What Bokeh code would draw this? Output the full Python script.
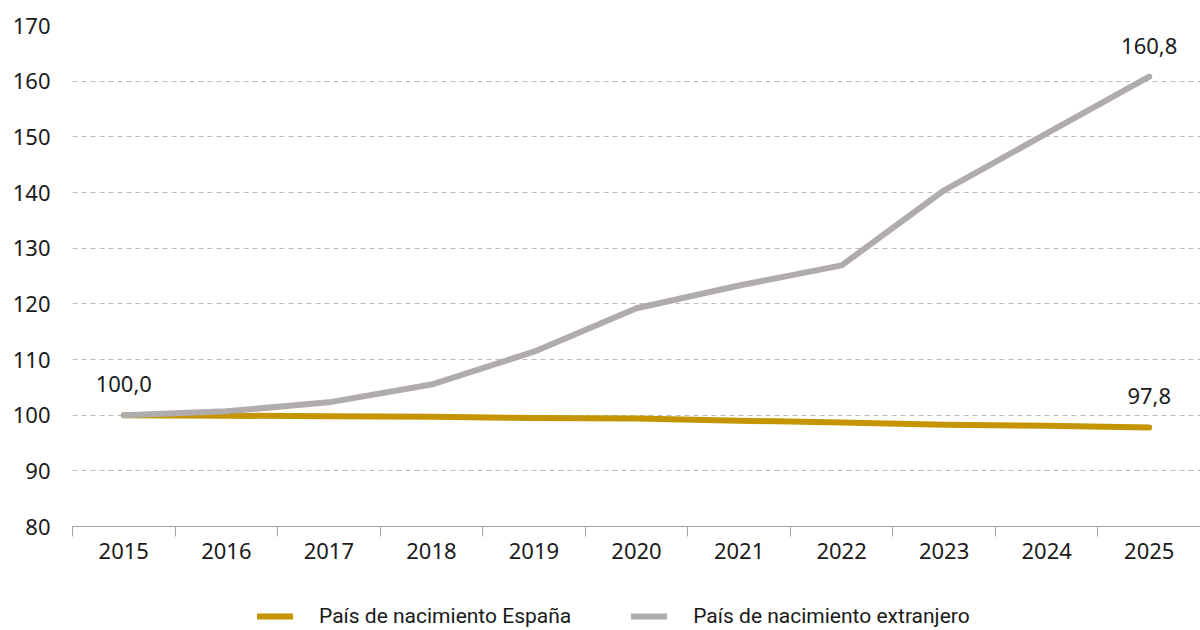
from bokeh.plotting import figure
from bokeh.layouts import column
from bokeh.models import (ColumnDataSource, FixedTicker, Range1d, Legend, LegendItem)
from bokeh.core.properties import value
from bokeh.embed import file_html
from bokeh.resources import INLINE

years = [2015, 2016, 2017, 2018, 2019, 2020, 2021, 2022, 2023, 2024, 2025]
espana = [100.0, 99.9, 99.8, 99.7, 99.5, 99.4, 99.0, 98.7, 98.3, 98.1, 97.8]
extranjero = [100.0, 100.7, 102.3, 105.5, 111.4, 119.2, 123.3, 126.9, 140.4, 150.6, 160.8]
y_ticks = [80, 90, 100, 110, 120, 130, 140, 150, 160, 170]
label_years = [2015, 2025, 2025]
label_values = [100.0, 160.8, 97.8]
label_texts = ["100,0", "160,8", "97,8"]
series_names = ["País de nacimiento España", "País de nacimiento extranjero"]

GOLD = "#C49500"
GRAY = "#B0ACAC"
FONT = "Noto Sans"

p = figure(width=1200, height=575, output_backend="svg", toolbar_location=None,
           x_range=Range1d(2014.5, 2025.5), y_range=Range1d(80, 170),
           min_border_left=72, min_border_right=0, min_border_top=25, min_border_bottom=49)
p.outline_line_color = None
p.background_fill_color = "white"
p.border_fill_color = "white"

# grid
p.xgrid.grid_line_color = None
p.ygrid.ticker = FixedTicker(ticks=y_ticks[1:])
p.ygrid.grid_line_color = "#BDBDBD"
p.ygrid.grid_line_dash = "5 4"
p.ygrid.grid_line_width = 1

# y axis
p.yaxis.ticker = FixedTicker(ticks=y_ticks)
p.yaxis.axis_line_color = None
p.yaxis.major_tick_line_color = None
p.yaxis.minor_tick_line_color = None
p.yaxis.major_label_standoff = 16
p.yaxis.major_label_text_font = FONT
p.yaxis.major_label_text_font_size = "22px"
p.yaxis.major_label_text_color = "#1a1a1a"

# x axis
p.xaxis.ticker = FixedTicker(ticks=years, minor_ticks=[y - 0.5 for y in years] + [2025.5])
p.xaxis.axis_line_color = "#A6A6A6"
p.xaxis.major_tick_line_color = None
p.xaxis.minor_tick_line_color = "#A6A6A6"
p.xaxis.minor_tick_out = 10
p.xaxis.minor_tick_in = 0
p.xaxis.major_label_standoff = 6
p.xaxis.major_label_text_font = FONT
p.xaxis.major_label_text_font_size = "22px"
p.xaxis.major_label_text_color = "#1a1a1a"

src = ColumnDataSource(dict(x=years, es=espana, ex=extranjero))
p.line("x", "es", source=src, line_color=GOLD, line_width=6, line_cap="round", line_join="round")
p.line("x", "ex", source=src, line_color=GRAY, line_width=6, line_cap="round", line_join="round")

lab = ColumnDataSource(dict(x=label_years, y=label_values, t=label_texts))
p.text("x", "y", text="t", source=lab, y_offset=-31,
       text_align="center", text_baseline="middle",
       text_font=value(FONT), text_font_size="22px", text_color="#1a1a1a")

# legend figure
lg = figure(width=1200, height=55, output_backend="svg", toolbar_location=None,
            x_range=Range1d(0, 1), y_range=Range1d(0, 1),
            min_border_left=0, min_border_right=0, min_border_top=0, min_border_bottom=0)
lg.axis.visible = False
lg.grid.visible = False
lg.outline_line_color = None
dummy = ColumnDataSource(dict(x=[-10, -9], y=[-10, -10]))
l1 = lg.line("x", "y", source=dummy, line_color=GOLD, line_width=6, line_cap="round")
l2 = lg.line("x", "y", source=dummy, line_color=GRAY, line_width=6, line_cap="round")
legend = Legend(items=[LegendItem(label=series_names[0], renderers=[l1]),
                       LegendItem(label=series_names[1], renderers=[l2])],
                orientation="horizontal", location=(185, 2),
                label_text_font="Roboto", label_text_font_size="21px", label_text_color="#1a1a1a",
                glyph_width=36, label_standoff=26, spacing=60, border_line_color=None,
                background_fill_alpha=0, padding=0, margin=0)
lg.add_layout(legend, "center")

open("out.html", "w").write(file_html(column(p, lg, spacing=0), INLINE))
